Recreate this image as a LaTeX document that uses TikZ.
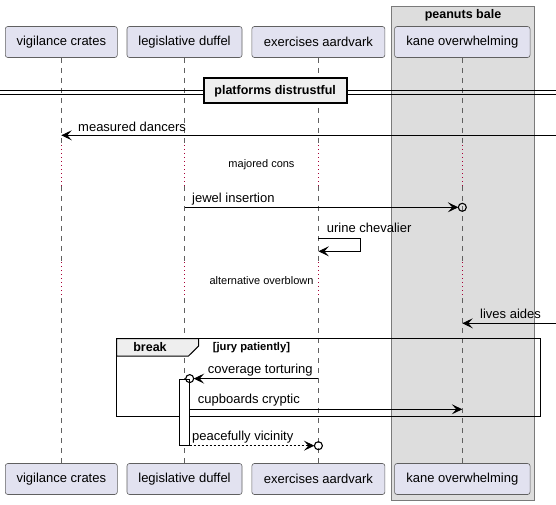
\documentclass[tikz,border=0pt]{standalone}
\usepackage{fontspec}
\setmainfont{Liberation Sans}
\usetikzlibrary{arrows.meta,calc}
\definecolor{partfill}{HTML}{E2E2F0}
\definecolor{partdraw}{HTML}{606060}
\definecolor{grpfill}{HTML}{DDDDDD}
\definecolor{grpdraw}{HTML}{7A7A7A}
\definecolor{lifegray}{HTML}{606060}
\definecolor{delayred}{HTML}{A80036}
\definecolor{hdrfill}{HTML}{EEEEEE}
\begin{document}
\begin{tikzpicture}[x=1pt,y=-1pt,
  part/.style={draw=partdraw,fill=partfill,rounded corners=2.5pt,minimum height=31pt,inner sep=0pt,line width=0.6pt,font=\fontsize{13}{15}\selectfont},
  life/.style={draw=lifegray,line width=0.5pt,dash pattern=on 5pt off 5pt},
  delayl/.style={draw=delayred,line width=1pt,dash pattern=on 1pt off 3pt},
  msg/.style={draw=black,line width=0.9pt,-{Stealth[length=10.5pt,width=10pt,inset=4.5pt]}},
  dmsg/.style={msg,dash pattern=on 2pt off 2pt},
  lbl/.style={anchor=west,inner sep=0pt,font=\fontsize{13}{15}\selectfont},
  dlbl/.style={inner sep=0pt,font=\fontsize{11}{13}\selectfont},
  endcirc/.style={draw=black,line width=1.1pt},
  boldlbl/.style={inner sep=0pt,font=\bfseries\fontsize{12.5}{15}\selectfont}]
\useasboundingbox (0,0) rectangle (556,505);
\fill[white] (0,0) rectangle (556,505);
% group box
\draw[draw=grpdraw,fill=grpfill,line width=0.6pt] (391.7,6) rectangle (534.3,500);
\node[boldlbl] (grpT) at (463,15.5) {peanuts bale};
% participants
\node[part,minimum width=112pt] (vcT) at (61.3,42) {vigilance crates};
\node[part,minimum width=115pt] (ldT) at (184.5,42) {legislative duffel};
\node[part,minimum width=133pt] (eaT) at (318.4,42) {exercises aardvark};
\node[part,minimum width=135.5pt] (koT) at (462.3,42) {kane overwhelming};
\node[part,minimum width=112pt] (vcB) at (61.3,479) {vigilance crates};
\node[part,minimum width=115pt] (ldB) at (184.5,479) {legislative duffel};
\node[part,minimum width=133pt] (eaB) at (318.4,479) {exercises aardvark};
\node[part,minimum width=135.5pt] (koB) at (462.3,479) {kane overwhelming};
% y levels
\coordinate (d1a) at (0,145);
\coordinate (d1b) at (0,186);
\coordinate (d2a) at (0,262);
\coordinate (d2b) at (0,298);
\foreach \p in {vc,ld,ea,ko}{
  \draw[life] (\p T.south) -- (\p T.south |- d1a);
  \draw[delayl] (\p T.south |- d1a) -- (\p T.south |- d1b);
  \draw[life] (\p T.south |- d1b) -- (\p T.south |- d2a);
  \draw[delayl] (\p T.south |- d2a) -- (\p T.south |- d2b);
  \draw[life] (\p T.south |- d2b) -- (\p B.north);
}
% divider
\coordinate (dvL) at (0,92);
\coordinate (dvR) at (556,92);
\draw[line width=0.9pt] ([yshift=-2pt]dvL) -- ([yshift=-2pt]dvR);
\draw[line width=0.9pt] ([yshift=2pt]dvL) -- ([yshift=2pt]dvR);
\node[draw=black,fill=hdrfill,line width=1.6pt,minimum width=143pt,minimum height=25pt,inner sep=0pt,font=\bfseries\fontsize{12.5}{15}\selectfont] (div) at (275.2,90.8) {platforms distrustful};
% message 1
\coordinate (m1s) at (556,135.3);
\coordinate (Y1) at (0,135.3);
\draw[msg] (m1s) -- (vcT.south |- Y1) coordinate (m1e);
\node[lbl] (l1) at (78,126.5) {measured dancers};
% delay 1
\node[dlbl] (dl1) at (261.5,165) {majored cons};
% message 2
\coordinate (Y2) at (0,207.3);
\coordinate (m2s) at (ldT.south |- Y2);
\coordinate (m2c) at (koT.south |- Y2);
\draw[msg] (m2s) -- ([xshift=-4pt]m2c);
\draw[endcirc] (m2c) circle (4pt);
\node[lbl] (l2) at (192,199) {jewel insertion};
% message 3 self
\coordinate (Y3a) at (0,238.3);
\coordinate (Y3b) at (0,251.3);
\coordinate (m3s) at (eaT.south |- Y3a);
\coordinate (m3e) at (eaT.south |- Y3b);
\draw[msg] (m3s) -- ++(42,0) |- (m3e);
\node[lbl] (l3) at (326.7,228.3) {urine chevalier};
% delay 2
\node[dlbl] (dl2) at (261.5,281) {alternative overblown};
% message 4
\coordinate (m4s) at (556,323.3);
\coordinate (Y4) at (0,323.3);
\draw[msg] (m4s) -- (koT.south |- Y4) coordinate (m4e);
\node[lbl] (l4) at (480,314) {lives aides};
% break frame
\draw[line width=1.5pt] (116.7,338.5) rectangle (540.3,416.7);
\draw[fill=hdrfill,line width=1pt] (116.7,338.5) -- (198.7,338.5) -- (198.7,346) -- (188.5,356) -- (116.7,356) -- cycle;
\node[boldlbl] (brk) at (150,347.5) {break};
\node[anchor=west,inner sep=0pt,font=\bfseries\fontsize{11.2}{13}\selectfont] (grd) at (212.7,348) {[jury patiently]};
% activation bar
\node[draw=black,fill=white,line width=0.8pt,minimum width=10pt,minimum height=66.4pt,inner sep=0pt] (act) at (184.3,412.5) {};
% message 5
\coordinate (Y5) at (0,378.6);
\coordinate (m5s) at (eaT.south |- Y5);
\coordinate (m5c) at (act.east |- Y5);
\draw[msg] (m5s) -- ([xshift=4pt]m5c);
\draw[endcirc] (m5c) circle (4pt);
\node[lbl] (l5) at (207.7,370) {coverage torturing};
% message 6
\coordinate (Y6) at (0,409.3);
\coordinate (m6s) at (act.east |- Y6);
\draw[msg] (m6s) -- (koT.south |- Y6) coordinate (m6e);
\node[lbl] (l6) at (197.7,400) {cupboards cryptic};
% message 7
\coordinate (Y7) at (0,445.7);
\coordinate (m7s) at (act.east |- Y7);
\coordinate (m7c) at (eaT.south |- Y7);
\draw[dmsg] (m7s) -- ([xshift=-4pt]m7c);
\draw[endcirc] (m7c) circle (4pt);
\node[lbl] (l7) at (192,437) {peacefully vicinity};
\end{tikzpicture}
\end{document}
